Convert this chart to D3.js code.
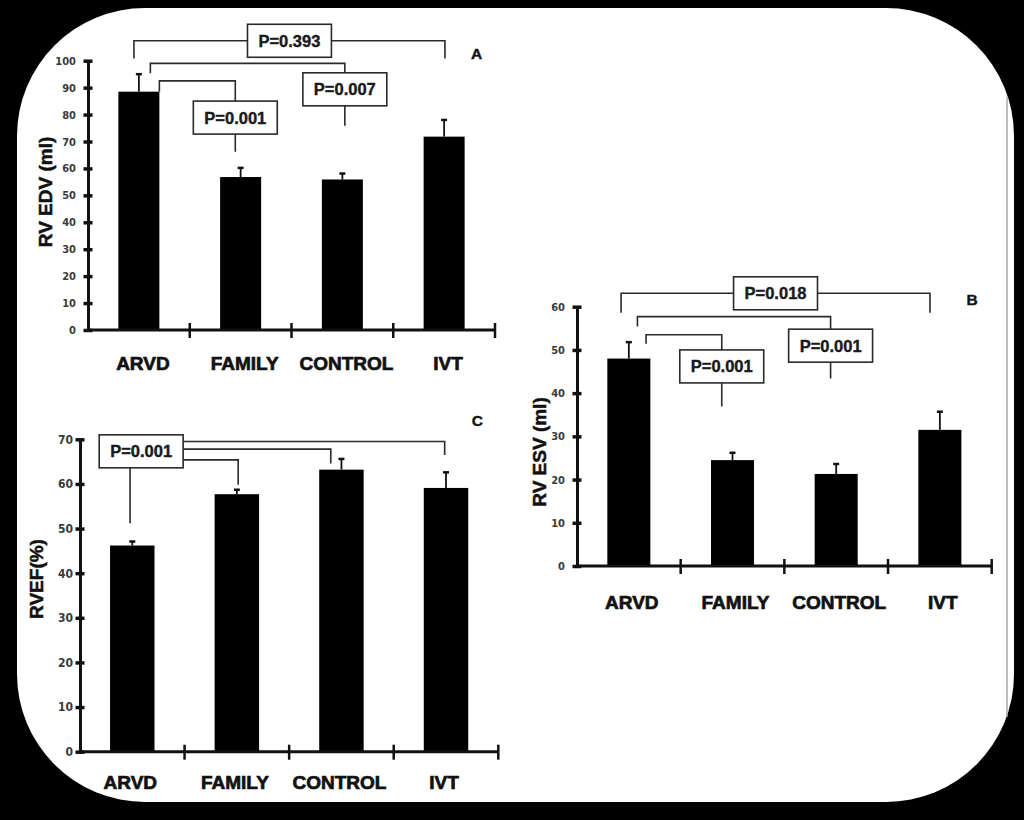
<!DOCTYPE html>
<html><head><meta charset="utf-8">
<script src="https://cdn.jsdelivr.net/npm/d3@7"></script>
<style>html,body{margin:0;padding:0;background:#000;} svg{display:block;}</style>
</head><body>
<svg id="chart" width="1024" height="820"></svg>
<script>
// ---------- DATA ----------
const categories = ["ARVD", "FAMILY", "CONTROL", "IVT"];

// Panel A: RV EDV (ml)
const edvMean = [88.5, 56.8, 55.9, 71.8];
const edvErrTop = [95.0, 60.2, 58.1, 78.0];
const edvTicks = [0, 10, 20, 30, 40, 50, 60, 70, 80, 90, 100];

// Panel B: RV ESV (ml)
const esvMean = [48.0, 24.5, 21.3, 31.5];
const esvErrTop = [51.8, 26.2, 23.6, 35.7];
const esvTicks = [0, 10, 20, 30, 40, 50, 60];

// Panel C: RVEF (%)
const efMean = [46.2, 57.7, 63.2, 59.1];
const efErrTop = [47.1, 58.7, 65.6, 62.6];
const efTicks = [0, 10, 20, 30, 40, 50, 60, 70];

// Significance brackets (levels in data units of each panel)
const edvBrackets = [
  {type: "top", label: "P=0.393", from: "ARVD", fromPos: 0.38, to: "IVT", toPos: 0.52, level: 107.4, legEnd: 100.8},
  {type: "drop", label: "P=0.007", from: "ARVD", fromPos: 0.78, to: "CONTROL", toPos: 0.56, level: 99.0, legEnd: 95.3, boxTop: 95.5, stemEnd: 75.8},
  {type: "drop", label: "P=0.001", from: "ARVD", fromPos: 1.0, to: "FAMILY", toPos: 0.37, level: 92.5, legEnd: 88.5, boxTop: 85.0, stemEnd: 66.2}
];
const esvBrackets = [
  {type: "top", label: "P=0.018", from: "ARVD", fromPos: 0.32, to: "IVT", toPos: 0.27, level: 63.1, legEnd: 58.6},
  {type: "drop", label: "P=0.001", from: "ARVD", fromPos: 0.70, to: "CONTROL", toPos: 0.37, level: 57.7, legEnd: 55.4, boxTop: 54.8, stemEnd: 43.4},
  {type: "drop", label: "P=0.001", from: "ARVD", fromPos: 0.90, to: "FAMILY", toPos: 0.25, level: 53.5, legEnd: 51.4, boxTop: 50.0, stemEnd: 36.9}
];
const efBracket = {
  label: "P=0.001", from: "ARVD", fromPos: 0.45, boxPos: 0.70, boxTop: 71.0, stemEnd: 51.2,
  links: [
    {to: "IVT", toPos: 0.47, level: 69.5, legEnd: 66.5},
    {to: "CONTROL", toPos: 0.26, level: 67.8, legEnd: 64.6},
    {to: "FAMILY", toPos: 0.53, level: 65.4, legEnd: 59.8}
  ]
};

// ---------- DRAWING ----------
const svg = d3.select("#chart");
const W = 1024, H = 820;
svg.append("rect").attr("width", W).attr("height", H).attr("fill", "#000");

// white rounded card
svg.append("rect").attr("x", 17).attr("y", 8).attr("width", 997).attr("height", 794)
  .attr("rx", 128).attr("ry", 128).attr("fill", "#fff");
// faint scan edge on right
svg.append("line").attr("x1", 1007).attr("x2", 1007).attr("y1", 97).attr("y2", 717)
  .attr("stroke", "#a8a8a8").attr("stroke-width", 1.5);

const LBL_FONT = "'Liberation Sans', Arial, Helvetica, sans-serif";
const TICK_FONT = "'Liberation Sans Narrow', 'DejaVu Sans Condensed', 'Liberation Sans', sans-serif";
const LINE_COL = "#2a2a2a";
const BOX_H = 33;

function panel(cfg) {
  const g = svg.append("g");
  const x = d3.scaleBand().domain(categories).range([cfg.x0, cfg.x1])
    .paddingInner(cfg.pad).paddingOuter(cfg.pad / 2);
  const y = d3.scaleLinear().domain([0, cfg.max]).range([cfg.yBottom, cfg.yTop]);
  const bw = x.bandwidth();
  const cx = c => x(c) + bw / 2;
  const ax = (c, f) => x(c) + bw * f;

  // bars
  g.selectAll("rect.bar").data(categories).join("rect").attr("class", "bar")
    .attr("x", c => x(c)).attr("width", bw)
    .attr("y", (c, i) => y(cfg.mean[i])).attr("height", (c, i) => y(0) - y(cfg.mean[i]))
    .attr("fill", "#000");

  // error bars
  const eg = g.selectAll("g.err").data(categories).join("g").attr("class", "err");
  eg.append("line").attr("x1", c => cx(c)).attr("x2", c => cx(c))
    .attr("y1", (c, i) => y(cfg.mean[i])).attr("y2", (c, i) => y(cfg.err[i]))
    .attr("stroke", "#111").attr("stroke-width", 1.8);
  eg.append("line").attr("x1", c => cx(c) - 3).attr("x2", c => cx(c) + 3)
    .attr("y1", (c, i) => y(cfg.err[i])).attr("y2", (c, i) => y(cfg.err[i]))
    .attr("stroke", "#111").attr("stroke-width", 2.5);

  // y axis
  const yAxis = d3.axisLeft(y).tickValues(cfg.ticks).tickSize(0).tickPadding(cfg.tickPad).tickFormat(d3.format("d"));
  const ya = g.append("g").attr("transform", `translate(${cfg.x0},0)`).call(yAxis);
  ya.select(".domain").attr("stroke", "#111").attr("stroke-width", 3);
  ya.selectAll(".tick text").attr("font-family", TICK_FONT).attr("font-size", cfg.tickSize)
    .attr("font-weight", "bold").attr("fill", "#3a3a3a");
  ya.selectAll(".tick").append("line").attr("x1", -4.5).attr("x2", 4.5)
    .attr("stroke", "#111").attr("stroke-width", 3.5);

  // x axis
  const xa = g.append("g").attr("transform", `translate(0,${cfg.yBottom})`);
  xa.append("line").attr("x1", cfg.x0).attr("x2", cfg.x1).attr("stroke", "#111").attr("stroke-width", 3);
  const bounds = categories.map(c => x(c) + bw + x.step() * cfg.pad / 2);
  xa.selectAll("line.xt").data(bounds).join("line").attr("class", "xt")
    .attr("x1", d => d).attr("x2", d => d).attr("y1", -7).attr("y2", 8)
    .attr("stroke", "#111").attr("stroke-width", 2.5);
  xa.selectAll("text.cat").data(categories).join("text").attr("class", "cat")
    .attr("x", c => cx(c) + cfg.catDx).attr("y", cfg.catDy)
    .attr("text-anchor", "middle").attr("font-family", LBL_FONT).attr("font-weight", "bold")
    .attr("font-size", 19).attr("fill", "#111").attr("stroke", "#111").attr("stroke-width", 0.7)
    .text(c => c);

  // y label
  g.append("text").attr("transform", `translate(${cfg.ylabX},${cfg.ylabY}) rotate(-90)`)
    .attr("text-anchor", "middle").attr("font-family", LBL_FONT).attr("font-weight", "bold")
    .attr("font-size", 19).attr("fill", "#111").attr("stroke", "#111").attr("stroke-width", 0.5)
    .text(cfg.ylabel);

  // panel letter
  g.append("text").attr("x", cfg.letterX).attr("y", cfg.letterY).attr("text-anchor", "middle")
    .attr("font-family", LBL_FONT).attr("font-weight", "bold").attr("font-size", 15.5)
    .attr("fill", "#111").attr("stroke", "#111").attr("stroke-width", 0.4).text(cfg.letter);

  return {g, x, y, ax, bw};
}

function pbox(g, cxPos, topY, label) {
  const r = g.append("rect");
  const t = g.append("text").attr("x", cxPos).attr("y", topY + BOX_H / 2 + 6)
    .attr("text-anchor", "middle").attr("font-family", LBL_FONT).attr("font-weight", "bold")
    .attr("font-size", 16.5).attr("fill", "#1a1a1a").attr("stroke", "#1a1a1a").attr("stroke-width", 0.4)
    .text(label);
  const w = t.node().getComputedTextLength() + 22;
  r.attr("x", cxPos - w / 2).attr("y", topY).attr("width", w).attr("height", BOX_H)
    .attr("fill", "#fff").attr("stroke", LINE_COL).attr("stroke-width", 1.6);
  return w;
}

function brackets(p, list) {
  const {g, y, ax} = p;
  list.forEach(b => {
    const xa = ax(b.from, b.fromPos), xb = ax(b.to, b.toPos);
    const ly = y(b.level);
    const path = d3.path();
    if (b.type === "top") {
      path.moveTo(xa, y(b.legEnd)); path.lineTo(xa, ly); path.lineTo(xb, ly); path.lineTo(xb, y(b.legEnd));
      g.append("path").attr("d", path.toString()).attr("fill", "none").attr("stroke", LINE_COL).attr("stroke-width", 1.6);
      pbox(g, (xa + xb) / 2, ly - BOX_H / 2, b.label);
    } else {
      path.moveTo(xa, y(b.legEnd)); path.lineTo(xa, ly); path.lineTo(xb, ly); path.lineTo(xb, y(b.boxTop));
      path.moveTo(xb, y(b.boxTop) + BOX_H); path.lineTo(xb, y(b.stemEnd));
      g.append("path").attr("d", path.toString()).attr("fill", "none").attr("stroke", LINE_COL).attr("stroke-width", 1.6);
      pbox(g, xb, y(b.boxTop), b.label);
    }
  });
}

// Panel A
const pA = panel({x0: 88, x1: 495, yBottom: 330, yTop: 60.7, max: 100, pad: 0.597,
  mean: edvMean, err: edvErrTop, ticks: edvTicks, tickPad: 12, tickSize: 11,
  catDx: 4, catDy: 40, ylabel: "RV EDV (ml)", ylabX: 52, ylabY: 192,
  letter: "A", letterX: 476.5, letterY: 59});
brackets(pA, edvBrackets);

// Panel B
const pB = panel({x0: 577, x1: 991.7, yBottom: 566, yTop: 306.7, max: 60, pad: 0.585,
  mean: esvMean, err: esvErrTop, ticks: esvTicks, tickPad: 12, tickSize: 11,
  catDx: 3, catDy: 43, ylabel: "RV ESV (ml)", ylabX: 546, ylabY: 452,
  letter: "B", letterX: 972, letterY: 305});
brackets(pB, esvBrackets);

// Panel C
const pC = panel({x0: 80, x1: 498.3, yBottom: 751.7, yTop: 439.3, max: 70, pad: 0.575,
  mean: efMean, err: efErrTop, ticks: efTicks, tickPad: 7, tickSize: 12,
  catDx: -2, catDy: 37, ylabel: "RVEF(%)", ylabX: 43, ylabY: 579,
  letter: "C", letterX: 477.3, letterY: 426});
(function () {
  const {g, y, ax} = pC;
  const b = efBracket;
  const bx = ax(b.from, b.boxPos);
  const top = y(b.boxTop);
  const path = d3.path();
  const sx = ax(b.from, b.fromPos);
  path.moveTo(sx, top + BOX_H); path.lineTo(sx, y(b.stemEnd));
  g.append("path").attr("d", path.toString()).attr("fill", "none").attr("stroke", LINE_COL).attr("stroke-width", 1.6);
  const w = pbox(g, bx, top, b.label);
  const right = bx + w / 2;
  b.links.forEach(l => {
    const lp = d3.path();
    const xe = ax(l.to, l.toPos);
    lp.moveTo(right, y(l.level)); lp.lineTo(xe, y(l.level)); lp.lineTo(xe, y(l.legEnd));
    g.append("path").attr("d", lp.toString()).attr("fill", "none").attr("stroke", LINE_COL).attr("stroke-width", 1.6);
  });
})();
</script>
</body></html>
